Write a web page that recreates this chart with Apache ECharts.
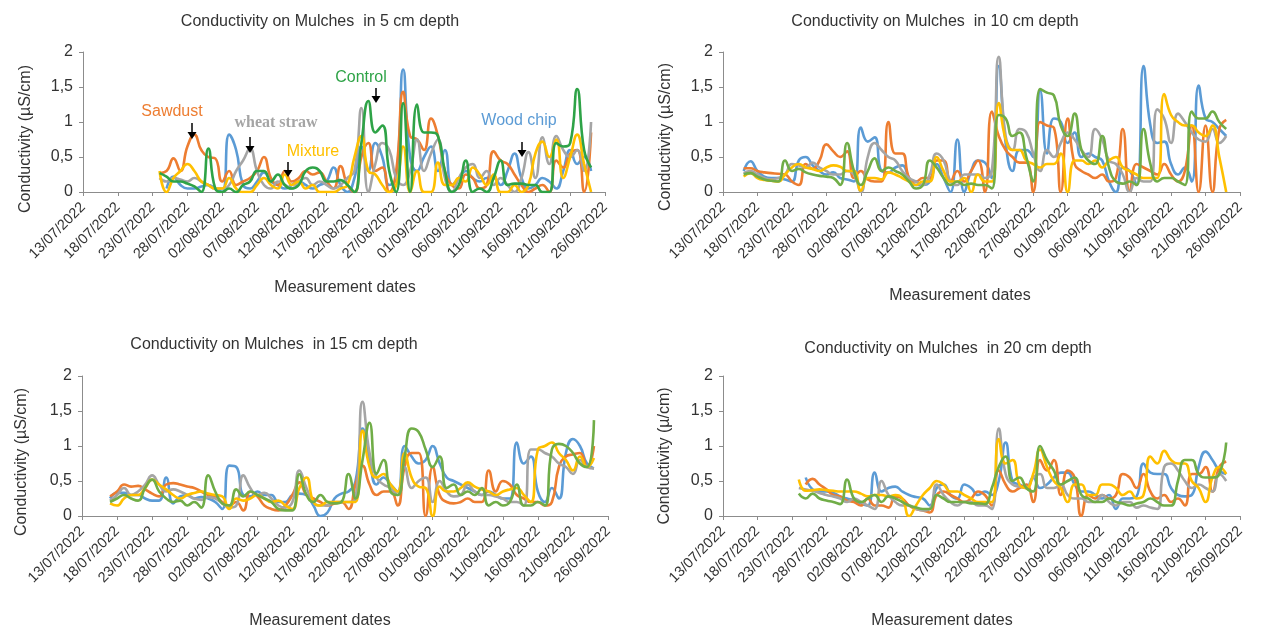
<!DOCTYPE html>
<html><head><meta charset="utf-8">
<script src="https://cdn.jsdelivr.net/npm/echarts@6/dist/echarts.min.js"></script>
<style>html,body{margin:0;padding:0;background:#fff}#c{width:1262px;height:631px}</style>
</head><body><div id="c"></div>
<script>
// ---------- axis / label data ----------
const axisStartDate = '2022-07-13';
const axisEndDate = '2022-09-26';
const tickStepDays = 5;
const yTicks = [0, 0.5, 1, 1.5, 2];
const seriesNames = ['Wood chip', 'Sawdust', 'wheat straw', 'Mixture', 'Control'];
const panelTitles = ['Conductivity on Mulches  in 5 cm depth', 'Conductivity on Mulches  in 10 cm depth',
  'Conductivity on Mulches  in 15 cm depth', 'Conductivity on Mulches  in 20 cm depth'];
const yAxisTitles = ['Conductivity (µS/cm)', 'Conductivity (µS/cm)', 'Conductivity (µS/cm)', 'Conductivity (µ/cm)'];
const xAxisTitle = 'Measurement dates';

// ---------- 5 cm (daily from 24/07) ----------
const start5 = '2022-07-24';
const d5_woodchip = [null,0.05,0.22,0.1,0.05,0.05,0.08,0.1,0.05,0.0, 0.82,0.6,0.1,0.05,0.15,0.28,0.15,0.1,0.05,0.1, 0.15,0.1,0.05,0.1,0.15,0.35,0.1,0.0,0.2,0.65, 0.3,0.7,0.5,0.1,0.2,1.75,0.5,0.3,0.5,0.65, 0.3,0.6,0.1,0.2,0.3,0.2,0.15,0.2,0.2,0.1, 0.3,0.55,0.2,0.05,0.1,0.2,0.15,0.05,0.3,0.6, 0.4,0.5,0.3];
const d5_sawdust = [0.27,0.3,0.48,0.3,0.65,0.82,0.6,0.5,0.48,0.15, 0.3,0.1,0.15,0.2,0.3,0.5,0.2,0.1,0.3,0.15, 0.2,0.3,0.25,0.28,0.15,0.05,0.37,0.1,0.0,0.5, 0.7,0.3,0.35,0.0,0.3,1.43,0.8,0.75,0.6,1.05, 0.8,0.3,0.1,0.05,0.25,0.2,0.05,0.1,0.58,0.45, 0.4,0.25,0.1,0.0,0.05,0.1,0.0,0.45,0.35,0.55, 0.6,0.0,0.85];
const d5_wheat = [0.2,0.15,0.2,0.18,0.15,0.2,0.15,0.1,0.05,0.05, 0.1,0.3,0.45,0.62,0.3,0.1,0.05,0.15,0.1,0.05, 0.15,0.2,0.1,0.15,0.1,0.05,0.1,0.2,0.3,1.2, 0.0,0.4,0.7,0.6,0.2,0.1,0.3,0.75,0.3,0.55, 0.75,0.2,0.0,0.2,0.35,0.4,0.2,0.3,0.1,0.2, 0.1,0.0,0.2,0.57,0.2,0.78,0.4,0.8,0.6,0.5, 0.6,0.3,1.0];
const d5_mixture = [0.3,0.0,0.2,0.3,0.4,0.3,0.15,0.1,0.05,0.05, 0.2,0.05,0.0,0.0,0.1,0.2,0.1,0.05,0.25,0.1, 0.15,0.05,0.1,0.0,0.0,0.0,0.05,0.1,0.5,0.8, 0.3,0.25,0.1,0.0,0.1,0.65,0.0,0.3,0.0,0.0, 0.42,0.1,0.1,0.2,0.15,0.35,0.25,0.1,0.25,0.0, 0.0,0.1,0.0,0.1,0.55,0.72,0.5,0.75,0.2,0.5, 0.82,0.4,0.0];
const d5_control = [0.27,0.22,0.15,0.15,0.12,0.08,0.0,0.62,0.05,0.0, 0.05,0.0,0.1,0.15,0.3,0.3,0.15,0.25,0.1,0.05, 0.1,0.3,0.35,0.3,0.15,0.15,0.17,0.1,0.0,0.7, 1.3,0.85,0.95,0.3,0.0,1.27,0.0,1.25,0.85,0.85, 0.8,0.3,0.0,0.1,0.45,0.0,0.05,0.0,0.2,0.45, 0.1,0.12,0.12,0.1,0.1,0.0,0.0,0.7,0.65,0.7, 1.47,0.6,0.35];

// ---------- 10 cm (daily from 16/07) ----------
const start10 = '2022-07-16';
const d10_woodchip = [0.3,0.44,0.3,0.22,0.2,0.2,0.18,0.15,0.45,0.5, 0.38,0.3,0.25,0.28,0.2,0.18,0.15,0.92,0.72,0.78, 0.3,0.28,0.35,0.38,0.2,0.1,0.1,0.15,0.4,0.2, 0.0,0.75,0.0,0.3,0.45,0.42,0.2,1.8,0.7,0.3, 0.6,0.6,0.5,1.45,0.55,1.05,1.0,0.7,0.85,0.5, 0.55,0.5,0.45,0.15,0.0,0.35,0.3,0.1,1.8,0.95, 0.7,0.72,0.4,0.25,0.35,0.15,1.52,1.05,1.0,0.9, 0.8];
const d10_sawdust = [0.34,0.34,0.3,0.28,0.27,0.26,0.25,0.15,0.1,0.4, 0.33,0.45,0.68,0.58,0.5,0.58,0.2,0.3,0.18,0.15, 0.15,1.0,0.55,0.55,0.2,0.15,0.2,0.2,0.45,0.45, 0.15,0.3,0.15,0.3,0.45,0.0,1.15,0.8,0.6,0.5, 0.42,0.42,0.0,1.0,0.95,0.92,0.0,1.05,0.4,0.3, 0.25,0.2,0.25,0.15,0.2,0.9,0.0,0.4,0.35,0.3, 0.25,0.4,0.25,0.15,0.3,0.95,0.0,0.95,0.0,0.9, 1.03];
const d10_wheat = [0.27,0.3,0.25,0.2,0.18,0.2,0.25,0.4,0.38,0.35, 0.42,0.35,0.3,0.25,0.25,0.3,0.25,0.0,0.5,0.7, 0.6,0.5,0.45,0.3,0.2,0.15,0.1,0.25,0.55,0.45, 0.15,0.1,0.25,0.25,0.25,0.2,0.3,1.93,0.8,0.6, 0.9,0.85,0.55,0.3,0.6,0.5,0.7,0.85,0.75,0.6, 0.5,0.9,0.75,0.45,0.4,0.25,0.0,0.2,0.15,0.15, 1.18,1.05,0.7,1.12,1.0,0.85,0.75,0.72,0.9,0.7, 0.8];
const d10_mixture = [0.22,0.27,0.2,0.17,0.16,0.15,0.25,0.35,0.4,0.35, 0.33,0.3,0.35,0.38,0.36,0.3,0.3,0.02,0.2,0.2, 0.18,0.28,0.25,0.2,0.15,0.1,0.15,0.15,0.5,0.3, 0.15,0.15,0.2,0.0,0.25,0.15,0.15,1.27,0.75,0.6, 0.6,0.45,0.4,0.35,0.4,0.4,0.55,0.0,0.45,0.45, 0.4,0.45,0.35,0.45,0.5,0.35,0.3,0.25,0.2,0.2, 0.2,1.4,1.1,1.0,0.95,0.95,0.85,0.8,0.95,0.5, 0.0];
const d10_control = [0.25,0.27,0.22,0.18,0.16,0.15,0.45,0.3,0.33,0.28, 0.25,0.23,0.22,0.2,0.1,0.7,0.3,0.1,0.3,0.48, 0.3,0.35,0.3,0.25,0.15,0.05,0.1,0.45,0.35,0.2, 0.1,0.15,0.1,0.12,0.1,0.1,0.05,1.1,1.05,0.8, 0.85,0.5,0.15,1.47,1.42,1.38,0.95,0.8,1.12,0.6, 0.45,0.4,0.8,0.35,0.15,0.12,0.15,0.1,0.9,0.4, 0.15,0.2,0.2,0.15,0.1,1.15,1.05,1.05,1.15,1.0, 0.9];

// ---------- 15 cm (daily from 17/07) ----------
const start15 = '2022-07-17';
const d15_woodchip = [0.25,0.33,0.33,0.3,0.3,0.25,0.22,0.22,0.55,0.18, 0.28,0.3,0.25,0.27,0.25,0.2,0.1,0.72,0.7,0.3, 0.28,0.35,0.3,0.3,0.2,0.2,0.3,0.32,0.3,0.15, 0.0,0.05,0.25,0.32,0.35,0.5,1.25,0.8,0.45,0.55, 0.45,0.35,1.0,0.85,0.75,0.8,1.0,0.75,0.55,0.5, 0.45,0.4,0.35,0.3,0.35,0.3,0.25,0.25,1.05,0.75, 0.85,0.35,0.2,0.4,0.25,0.9,1.1,1.0,0.75,0.68];
const d15_sawdust = [0.28,0.35,0.45,0.42,0.43,0.38,0.32,0.28,0.45,0.47, 0.45,0.42,0.4,0.35,0.3,0.28,0.2,0.15,0.2,0.08, 0.35,0.28,0.15,0.1,0.08,0.15,0.3,0.48,0.3,0.25, 0.2,0.15,0.18,0.2,0.1,0.45,0.72,0.45,0.3,0.35, 0.35,0.15,0.7,0.9,0.9,0.0,0.7,0.3,0.2,0.18, 0.2,0.25,0.2,0.2,0.65,0.35,0.5,0.45,0.3,0.25, 0.2,0.2,0.15,0.2,0.7,0.85,0.88,0.9,0.7,1.0];
const d15_wheat = [0.22,0.3,0.4,0.3,0.35,0.45,0.58,0.45,0.35,0.38, 0.35,0.3,0.25,0.23,0.27,0.25,0.18,0.12,0.15,0.58, 0.4,0.3,0.33,0.25,0.15,0.12,0.2,0.65,0.4,0.2, 0.15,0.15,0.2,0.2,0.2,0.25,1.63,0.9,0.55,0.45, 0.4,0.3,0.7,0.4,0.5,0.55,0.2,0.5,0.35,0.28, 0.3,0.45,0.35,0.3,0.3,0.28,0.25,0.2,0.2,0.15, 0.95,0.95,0.9,0.85,0.75,0.7,0.6,0.8,0.7,0.68];
const d15_mixture = [0.18,0.15,0.25,0.3,0.3,0.4,0.52,0.45,0.38,0.3, 0.25,0.3,0.33,0.35,0.32,0.3,0.28,0.1,0.25,0.22, 0.25,0.3,0.25,0.2,0.22,0.15,0.1,0.4,0.55,0.2, 0.15,0.2,0.2,0.2,0.2,0.2,1.22,0.7,0.55,0.6, 0.45,0.35,0.9,0.55,0.42,0.4,0.0,0.42,0.35,0.35, 0.4,0.48,0.42,0.38,0.35,0.3,0.35,0.38,0.4,0.3, 0.2,0.95,1.0,1.05,0.9,0.8,0.65,0.85,0.7,0.83];
const d15_control = [0.2,0.25,0.3,0.25,0.22,0.4,0.52,0.35,0.25,0.2, 0.22,0.15,0.2,0.12,0.58,0.35,0.18,0.15,0.38,0.28, 0.35,0.3,0.25,0.2,0.1,0.08,0.08,0.6,0.3,0.2, 0.3,0.2,0.18,0.2,0.6,0.25,0.8,1.33,0.6,0.8, 0.35,0.3,0.85,1.25,1.2,0.95,0.7,0.85,0.4,0.45, 0.3,0.35,0.3,0.4,0.15,0.2,0.15,0.2,0.45,0.15, 0.15,0.2,0.15,0.95,1.03,1.0,0.9,0.75,0.7,1.37];

// ---------- 20 cm (daily from 24/07) ----------
const start20 = '2022-07-24';
const d20_woodchip = [null,0.55,0.38,0.35,0.35,0.33,0.28,0.25,0.22,0.18, 0.15,0.62,0.35,0.4,0.42,0.35,0.3,0.27,0.25,0.15, 0.4,0.45,0.3,0.25,0.45,0.4,0.3,0.35,0.3,0.5, 1.05,0.5,0.45,0.4,0.55,0.4,0.45,0.55,0.62,0.62, 0.45,0.35,0.35,0.3,0.25,0.3,0.1,0.25,0.25,0.28, 0.75,0.62,0.6,0.6,0.4,0.3,0.28,0.3,0.7,0.92, 0.8,0.65,0.6];
const d20_sawdust = [null,0.45,0.53,0.45,0.38,0.3,0.28,0.22,0.2,0.15, 0.25,0.15,0.15,0.12,0.28,0.25,0.15,0.1,0.08,0.05, 0.3,0.35,0.3,0.25,0.2,0.25,0.35,0.3,0.15,0.65, 0.45,0.35,0.4,0.45,0.2,0.8,0.65,0.8,0.3,0.65, 0.55,0.0,0.3,0.25,0.3,0.25,0.3,0.6,0.55,0.4, 0.6,0.35,0.25,0.3,0.2,0.25,0.15,0.6,0.6,0.7, 0.35,0.7,0.78];
const d20_wheat = [0.4,0.38,0.36,0.33,0.3,0.28,0.25,0.2,0.25,0.2, 0.15,0.1,0.5,0.3,0.2,0.15,0.15,0.1,0.08,0.1, 0.45,0.3,0.2,0.15,0.2,0.2,0.15,0.15,0.1,1.25, 0.6,0.45,0.42,0.4,0.55,0.6,0.4,0.4,0.45,0.3, 0.25,0.25,0.2,0.2,0.3,0.2,0.15,0.2,0.2,0.12, 0.15,0.12,0.1,0.7,0.75,0.65,0.5,0.4,0.45,0.4, 0.35,0.6,0.5];
const d20_mixture = [0.52,0.36,0.37,0.38,0.37,0.36,0.35,0.35,0.35,0.32, 0.28,0.3,0.3,0.28,0.3,0.25,0.0,0.15,0.3,0.4, 0.5,0.45,0.35,0.35,0.3,0.25,0.2,0.2,0.2,1.1, 0.75,0.8,0.45,0.4,0.6,0.95,0.7,0.5,0.4,0.2, 0.45,0.45,0.3,0.3,0.45,0.45,0.4,0.3,0.35,0.25, 0.3,0.85,0.75,0.93,0.8,0.75,0.75,0.5,0.4,0.2, 0.55,0.7,0.6];
const d20_control = [0.32,0.25,0.32,0.25,0.22,0.2,0.17,0.52,0.25,0.2, 0.25,0.3,0.2,0.28,0.25,0.2,0.15,0.12,0.1,0.1, 0.3,0.25,0.2,0.2,0.2,0.18,0.18,0.17,0.4,0.7, 0.85,0.5,0.55,0.4,0.35,1.0,0.8,0.65,0.45,0.5, 0.55,0.3,0.25,0.2,0.2,0.25,0.2,0.18,0.15,0.18, 0.2,0.25,0.2,0.15,0.15,0.5,0.8,0.8,0.6,0.55, 0.55,0.6,1.05];

// ---------- build ----------
const DAY = 86400000;
function dayOf(s) { return Math.round((Date.parse(s) - Date.parse(axisStartDate)) / DAY); }
function pts(start, vals) { const s = dayOf(start); return vals.map((v, i) => [s + i, v]); }
function fmtDate(v) {
  const d = new Date(Date.parse(axisStartDate) + v * DAY);
  const p = n => String(n).padStart(2, '0');
  return p(d.getUTCDate()) + '/' + p(d.getUTCMonth() + 1) + '/' + d.getUTCFullYear();
}
const panels = [
  { start: start5, data: [d5_woodchip, d5_sawdust, d5_wheat, d5_mixture, d5_control] },
  { start: start10, data: [d10_woodchip, d10_sawdust, d10_wheat, d10_mixture, d10_control] },
  { start: start15, data: [d15_woodchip, d15_sawdust, d15_wheat, d15_mixture, d15_control] },
  { start: start20, data: [d20_woodchip, d20_sawdust, d20_wheat, d20_mixture, d20_control] }
];
const baseColors = ['#5B9BD5', '#ED7D31', '#A5A5A5', '#FFC000', '#70AD47'];
const panel1Green = '#2EA347';
const FONT = 'Liberation Sans, Arial, sans-serif';
const TXT = '#333333';

const grids = [
  { left: 83, top: 52, width: 522, height: 140 },
  { left: 723, top: 52, width: 517, height: 140 },
  { left: 82, top: 376, width: 526, height: 140 },
  { left: 723, top: 376, width: 517, height: 140 }
];
const titlePos = [[320, 22], [935, 22], [274, 345], [948, 349]];
const xNamePos = [[345, 288], [960, 296], [320, 621], [942, 621]];
const yNamePos = [[26, 139], [666, 137], [22, 462], [665, 456]];

const xAxes = grids.map((g, i) => ({
  type: 'value', gridIndex: i, min: 0, max: dayOf(axisEndDate), interval: tickStepDays,
  axisLine: { lineStyle: { color: '#8c8c8c', width: 1 } },
  axisTick: { show: true, length: 4, lineStyle: { color: '#8c8c8c' } },
  splitLine: { show: false },
  axisLabel: { rotate: 45, margin: 13, fontSize: 14.5, color: TXT, fontFamily: FONT, formatter: fmtDate, showMinLabel: true, showMaxLabel: true }
}));
const yAxes = grids.map((g, i) => ({
  type: 'value', gridIndex: i, min: yTicks[0], max: yTicks[yTicks.length - 1], interval: yTicks[1] - yTicks[0],
  axisLine: { show: true, lineStyle: { color: '#8c8c8c', width: 1 } },
  axisTick: { show: true, length: 4, lineStyle: { color: '#8c8c8c' } },
  splitLine: { show: false },
  axisLabel: { fontSize: 16, color: TXT, fontFamily: FONT, margin: 10, formatter: v => String(v).replace('.', ',') }
}));
const series = [];
panels.forEach((p, gi) => {
  p.data.forEach((vals, si) => {
    let c = baseColors[si];
    if (gi === 0 && si === 4) c = panel1Green;
    series.push({
      type: 'line', name: seriesNames[si], xAxisIndex: gi, yAxisIndex: gi,
      data: pts(p.start, vals), smooth: 0.5, showSymbol: false, symbol: 'none',
      lineStyle: { color: c, width: 2.6 }, itemStyle: { color: c }, clip: true, z: 2 + si
    });
  });
});

const graphics = [];
panelTitles.forEach((t, i) => graphics.push({ type: 'text', x: titlePos[i][0], y: titlePos[i][1],
  style: { text: t, fontSize: 16, fill: TXT, fontFamily: FONT, align: 'center', verticalAlign: 'middle' } }));
xNamePos.forEach((p, i) => graphics.push({ type: 'text', x: p[0], y: p[1],
  style: { text: xAxisTitle, fontSize: 16, fill: TXT, fontFamily: FONT, align: 'center', verticalAlign: 'middle' } }));
yNamePos.forEach((p, i) => graphics.push({ type: 'text', x: p[0], y: p[1], rotation: Math.PI / 2,
  style: { text: yAxisTitles[i], fontSize: 16, fill: TXT, fontFamily: FONT, align: 'center', verticalAlign: 'middle' } }));

// annotations on the 5 cm panel
const notes = [
  { text: 'Sawdust', color: '#ED7D31', x: 172, y: 112, font: FONT, weight: 'normal', ax: 192, ay1: 123, ay2: 139 },
  { text: 'wheat straw', color: '#A5A5A5', x: 276, y: 123, font: 'Liberation Serif, serif', weight: 'bold', ax: 250, ay1: 137, ay2: 153 },
  { text: 'Mixture', color: '#FFC000', x: 313, y: 152, font: FONT, weight: 'normal', ax: 288, ay1: 162, ay2: 177 },
  { text: 'Control', color: panel1Green, x: 361, y: 78, font: FONT, weight: 'normal', ax: 376, ay1: 88, ay2: 103 },
  { text: 'Wood chip', color: '#5B9BD5', x: 519, y: 121, font: FONT, weight: 'normal', ax: 522, ay1: 142, ay2: 157 }
];
notes.forEach(n => {
  graphics.push({ type: 'text', x: n.x, y: n.y, z: 100,
    style: { text: n.text, fontSize: 16, fill: n.color, fontFamily: n.font, fontWeight: n.weight, align: 'center', verticalAlign: 'middle' } });
  graphics.push({ type: 'line', z: 100, shape: { x1: n.ax, y1: n.ay1, x2: n.ax, y2: n.ay2 - 5 }, style: { stroke: '#000', lineWidth: 1.5 } });
  graphics.push({ type: 'polygon', z: 100, shape: { points: [[n.ax - 4.5, n.ay2 - 7], [n.ax + 4.5, n.ay2 - 7], [n.ax, n.ay2]] }, style: { fill: '#000' } });
});

const chart = echarts.init(document.getElementById('c'), null, { renderer: 'canvas' });
chart.setOption({
  backgroundColor: '#ffffff',
  animation: false,
  textStyle: { fontFamily: FONT },
  grid: grids,
  xAxis: xAxes,
  yAxis: yAxes,
  series: series,
  graphic: graphics
});
</script></body></html>
